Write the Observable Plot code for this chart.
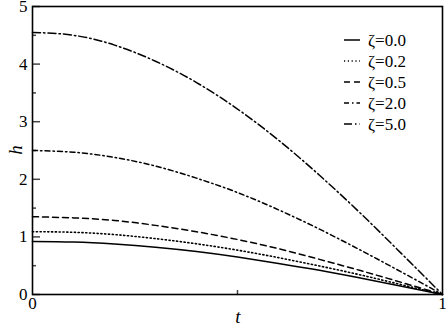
<!DOCTYPE html>
<html><head><meta charset="utf-8">
<script src="https://cdn.jsdelivr.net/npm/d3@7"></script>
<script src="https://cdn.jsdelivr.net/npm/@observablehq/plot@0.6"></script>
<style>
body{margin:0;background:#fff}
#chart svg, #chart svg text { font-family: "Liberation Serif", "Times New Roman", serif !important; }
</style>
</head><body><div id="chart"></div>
<script>
const tVals = [0, 0.1, 0.2, 0.3, 0.4, 0.5, 0.6, 0.7, 0.8, 0.9, 1.0];
const zetaNames = ["ζ=0.0", "ζ=0.2", "ζ=0.5", "ζ=2.0", "ζ=5.0"];
const h00 = [0.92, 0.91, 0.875, 0.82, 0.745, 0.65, 0.54, 0.42, 0.285, 0.145, 0];
const h02 = [1.09, 1.08, 1.04, 0.97, 0.88, 0.77, 0.64, 0.495, 0.34, 0.17, 0];
const h05 = [1.35, 1.33, 1.285, 1.20, 1.09, 0.955, 0.795, 0.61, 0.415, 0.21, 0];
const h20 = [2.5, 2.47, 2.38, 2.23, 2.02, 1.77, 1.47, 1.135, 0.77, 0.39, 0];
const h50 = [4.55, 4.50, 4.33, 4.05, 3.68, 3.22, 2.68, 2.07, 1.41, 0.71, 0];
const xTicks = [0, 1];
const xMinor = [0.5];
const yTicks = [0, 1, 2, 3, 4, 5];
const yMinor = [0.5, 1.5, 2.5, 3.5, 4.5];

const seriesVals = [h00, h02, h05, h20, h50];
const dashes = [null, "1.2,2.6", "6,4", "5,3,1.5,3", "8,3,1.5,3"];
const data = [];
zetaNames.forEach((z, i) => tVals.forEach((t, j) => data.push({z, t, h: seriesVals[i][j]})));

const font = "Liberation Serif, Times New Roman, serif";
const marks = [
  Plot.axisY({ticks: yTicks, tickSize: 0, tickPadding: 5, tickFormat: "d", label: null, fontSize: 17}),
  Plot.axisY({ticks: yTicks, tickSize: -8, text: null, label: null, strokeWidth: 1.5, stroke: "#444"}),
  Plot.axisY({ticks: yMinor, tickSize: -4, text: null, label: null, strokeWidth: 1.5, stroke: "#444"}),
  Plot.axisX({ticks: xTicks, tickSize: 0, tickPadding: 2, tickFormat: "d", label: null, fontSize: 17}),
  Plot.axisX({ticks: xMinor, tickSize: -4, text: null, label: null, strokeWidth: 1.5, stroke: "#444"}),
];
zetaNames.forEach((z, i) => {
  marks.push(Plot.line(data.filter(d => d.z === z), {
    x: "t", y: "h", curve: "natural", stroke: "black",
    strokeWidth: i === 1 ? 1.6 : 1.5,
    strokeDasharray: dashes[i]
  }));
});
marks.push(Plot.frame({stroke: "black", strokeWidth: 1.6}));

const chart = Plot.plot({
  width: 447, height: 327,
  marginLeft: 32, marginRight: 5, marginTop: 6, marginBottom: 33,
  style: {fontFamily: font, color: "black", background: "white", overflow: "visible"},
  x: {domain: [0, 1]},
  y: {domain: [0, 5]},
  marks
});
document.getElementById("chart").append(chart);

// axis labels and legend
const svg = d3.select(chart);
svg.append("text").attr("x", 238).attr("y", 323).attr("text-anchor", "middle")
  .attr("font-size", 19).attr("font-style", "italic").text("t");
svg.append("text").attr("transform", "translate(22,150) rotate(-90)").attr("text-anchor", "middle")
  .attr("font-size", 19).attr("font-style", "italic").text("h");
const lg = svg.append("g");
zetaNames.forEach((z, i) => {
  const y = 40 + i * 21;
  lg.append("line").attr("x1", 344).attr("x2", 360).attr("y1", y).attr("y2", y)
    .attr("stroke", "black").attr("stroke-width", 1.5)
    .attr("stroke-dasharray", dashes[i]);
  lg.append("text").attr("x", 368).attr("y", y + 5.5).attr("text-anchor", "start")
    .attr("font-size", 17).text(z);
});
</script></body></html>
